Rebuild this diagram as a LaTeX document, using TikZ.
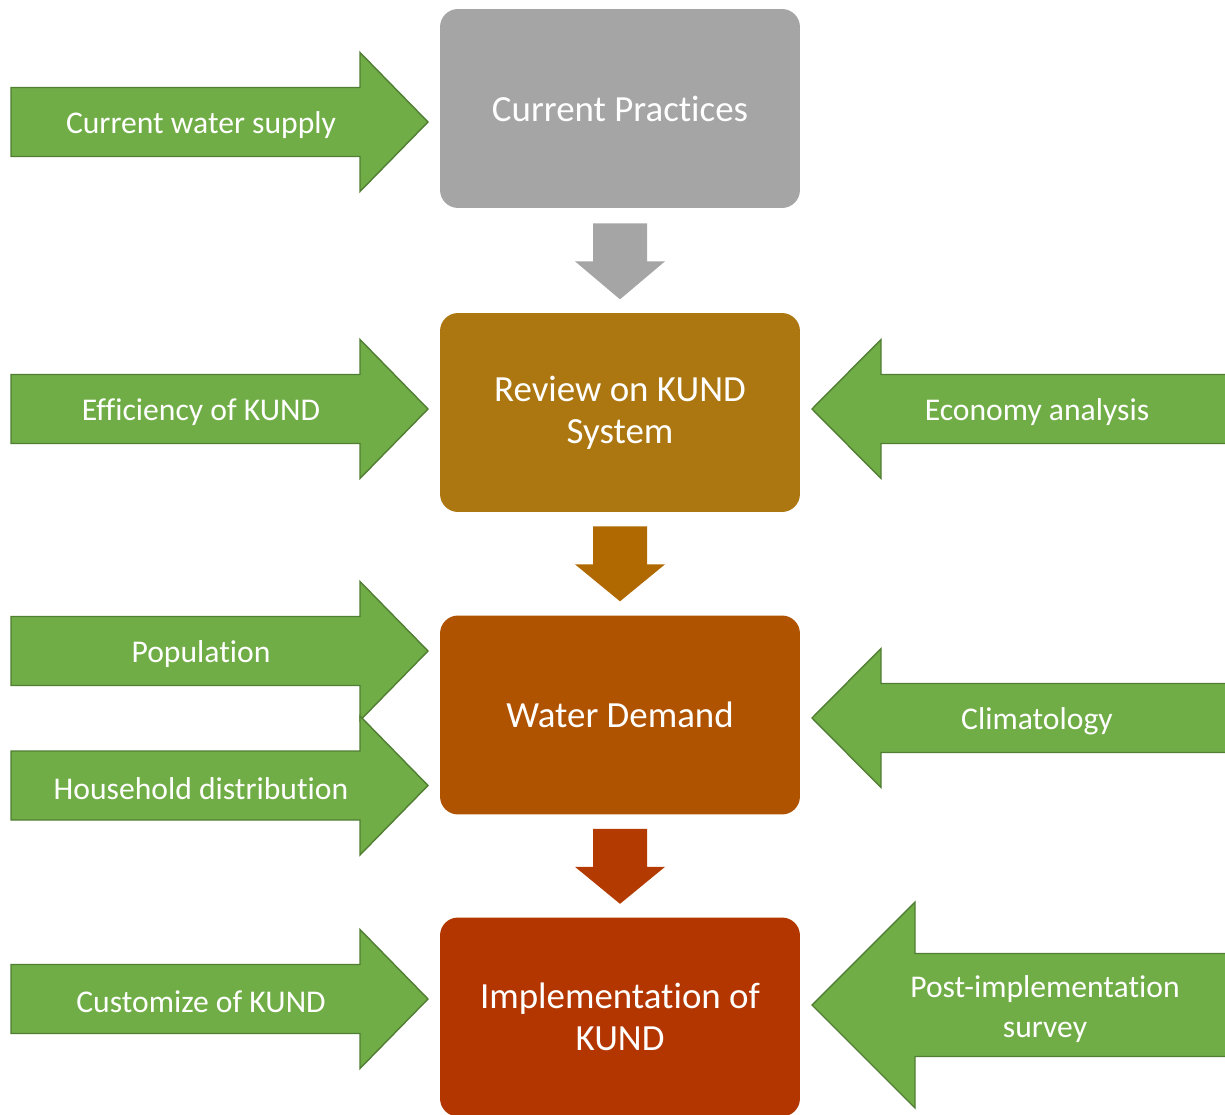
\documentclass[tikz,border=0pt]{standalone}
\usepackage{fontspec}
\setmainfont{Carlito}[Ligatures={NoCommon}]
\definecolor{ingreen}{HTML}{70AD47}
\definecolor{ingreenline}{HTML}{507E32}
\definecolor{cpgray}{HTML}{A5A5A5}
\definecolor{rkbrown}{HTML}{AC7711}
\definecolor{rkdown}{HTML}{B06800}
\definecolor{wdorange}{HTML}{B05300}
\definecolor{wddown}{HTML}{B33A00}
\definecolor{ikred}{HTML}{B33500}
\tikzset{
  stagebox/.style={rounded corners=0.36cm, minimum width=7.2cm, minimum height=3.98cm,
    inner sep=0pt, text=white, align=center, font=\fontsize{21}{24}\selectfont},
  inarrow/.style={fill=ingreen, draw=ingreenline, line width=0.8pt},
  inlabel/.style={text=white, align=center, inner sep=0pt, font=\fontsize{18}{23}\selectfont}
}
\begin{document}
\begin{tikzpicture}[x=0.02cm,y=-0.02cm]
\useasboundingbox (0,0) rectangle (1225,1115);
% stages
\node[stagebox,fill=cpgray]   (cp) at (620,108.5) {Current Practices};
\node[stagebox,fill=rkbrown]  (rk) at (620,412.5) {Review on KUND\\System};
\node[stagebox,fill=wdorange] (wd) at (620,715)   {Water Demand};
\node[stagebox,fill=ikred]    (ik) at (620,1017)  {Implementation of\\KUND};
% block arrows between stages
\fill[cpgray] (cp.south) ++(-27,15) -- ++(54,0) -- ++(0,38) -- ++(18,0) -- ++(-45,38) -- ++(-45,-38) -- ++(18,0) -- cycle;
\fill[rkdown] (rk.south) ++(-27,14) -- ++(54,0) -- ++(0,38) -- ++(18,0) -- ++(-45,37) -- ++(-45,-37) -- ++(18,0) -- cycle;
\fill[wddown] (wd.south) ++(-27,14) -- ++(54,0) -- ++(0,38) -- ++(18,0) -- ++(-45,37) -- ++(-45,-37) -- ++(18,0) -- cycle;
% inputs from the left
\foreach \y/\nm/\txt in {122/cws/Current water supply, 409/eff/Efficiency of KUND,
    651/pop/Population, 785.5/hhd/Household distribution, 999/cus/Customize of KUND}{
  \draw[inarrow] (11,\y-34.5) -- ++(349,0) -- ++(0,-35) -- ++(68,69.5) -- ++(-68,69.5) -- ++(0,-35) -- ++(-349,0) -- cycle;
  \node[inlabel] (\nm) at (201,\y+3) {\txt};
}
% inputs from the right
\foreach \y/\nm/\txt in {409/eco/Economy analysis, 718/cli/Climatology}{
  \draw[inarrow] (1235,\y-34.5) -- ++(-354,0) -- ++(0,-35) -- ++(-69,69.5) -- ++(69,69.5) -- ++(0,-35) -- ++(354,0) -- cycle;
  \node[inlabel] (\nm) at (1037,\y+3) {\txt};
}
\draw[inarrow] (1235,953.5) -- ++(-320,0) -- ++(0,-51.5) -- ++(-103,103) -- ++(103,103) -- ++(0,-51.5) -- ++(320,0) -- cycle;
\node[inlabel] (pis) at (1045,1009) {Post-implementation\\survey};
\end{tikzpicture}
\end{document}
